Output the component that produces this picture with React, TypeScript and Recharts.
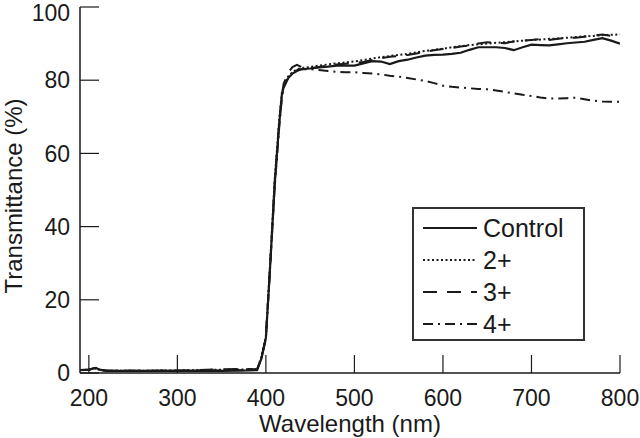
import { LineChart, Line, XAxis, YAxis, Legend } from "recharts";

const wavelengths = [
  190, 200, 205, 208, 212, 220, 250, 300, 350, 380, 390, 395, 400, 405, 410,
  415, 418, 420, 425, 430, 435, 440, 450, 460, 470, 480, 490, 500, 510, 520,
  530, 540, 550, 560, 570, 580, 590, 600, 610, 620, 630, 640, 650, 660, 670,
  680, 690, 700, 710, 720, 730, 740, 750, 760, 770, 780, 790, 800,
];

const control = [
  0.8, 0.9, 1.3, 1.4, 0.9, 0.6, 0.6, 0.6, 0.6, 0.7, 0.8, 4, 9.6, 30, 52, 68,
  76, 78, 80.5, 81.8, 82.5, 83, 83.2, 83.5, 83.7, 84, 84, 84, 84.6, 85.2, 85.1,
  84.4, 85.2, 85.6, 86.2, 86.7, 86.9, 87, 87.2, 87.5, 88.3, 89, 89, 89, 88.8,
  88.2, 89, 89.7, 89.6, 89.5, 89.8, 90.1, 90.3, 90.5, 91, 91.5, 90.8, 90,
];

const ca2 = [
  0.8, 0.9, 1.2, 1.3, 0.9, 0.6, 0.6, 0.7, 0.9, 1.0, 1.0, 4.5, 10, 31, 53, 69,
  76.5, 78.5, 81, 82.2, 83, 83.3, 83.6, 84, 84.3, 84.6, 84.9, 85.1, 85.5, 85.9,
  86.3, 86.6, 86.9, 87.2, 87.6, 88, 88.3, 88.6, 89, 89.3, 89.6, 89.8, 90, 90.2,
  90.4, 90.6, 90.8, 91, 91.1, 91.3, 91.4, 91.6, 91.8, 92, 92.1, 92.3, 92.4, 92.5,
];

const ca3 = [
  0.8, 0.9, 1.2, 1.3, 0.9, 0.6, 0.6, 0.7, 1.0, 1.1, 1.0, 4.2, 9.8, 30, 52, 68,
  75.5, 79, 82, 83.6, 84.2, 83.6, 83.2, 83.6, 84, 84.3, 84.5, 84.7, 85, 85.5,
  86, 86.4, 86.6, 86.9, 87.3, 87.8, 88.2, 88.5, 88.8, 89.2, 89.5, 90, 90.4,
  90.2, 90.1, 90.6, 90.8, 91, 91.2, 91, 91.3, 91.6, 91.6, 91.9, 92.2, 92.5,
  92.1, 91.8,
];

const ca4 = [
  0.8, 0.9, 1.2, 1.3, 0.9, 0.6, 0.6, 0.6, 0.7, 0.8, 0.9, 4, 9.5, 30, 51, 67,
  75, 78, 80.5, 82, 82.8, 83, 83, 82.8, 82.5, 82.3, 82.2, 82.2, 82, 81.8, 81.6,
  81.2, 81, 80.6, 80.2, 79.8, 79.2, 78.5, 78.2, 78, 77.8, 77.6, 77.5, 77.2,
  76.8, 76.4, 76, 75.7, 75.3, 75, 75, 75.1, 75.2, 74.8, 74.4, 74.2, 74.1, 74.1,
];

const xTicks = [200, 300, 400, 500, 600, 700, 800];
const yTicks = [0, 20, 40, 60, 80, 100];

const series = [
  { key: "control", name: "Control", dash: undefined, width: 2.2 },
  { key: "ca2", name: "2+", dash: "2 2.5", width: 2 },
  { key: "ca3", name: "3+", dash: "14 10", width: 2 },
  { key: "ca4", name: "4+", dash: "10 5 2 5", width: 2 },
];

const data = wavelengths.map((w, i) => ({
  wavelength: w,
  control: control[i],
  ca2: ca2[i],
  ca3: ca3[i],
  ca4: ca4[i],
}));

const font = "'Liberation Sans', Arial, Helvetica, sans-serif";
const ink = "#1a1a1a";

function LegendBox() {
  return (
    <div
      style={{
        width: 169,
        height: 130,
        border: `2px solid #333`,
        background: "#fff",
        boxSizing: "content-box",
      }}
    >
      <svg width={169} height={130}>
        {series.map((s, i) => {
          const cy = 19 + i * 32;
          return (
            <g key={s.key}>
              <line
                x1={9}
                x2={63}
                y1={cy}
                y2={cy}
                stroke={ink}
                strokeWidth={s.width}
                strokeDasharray={s.dash}
              />
              <text
                x={69}
                y={cy}
                dy="0.36em"
                fontSize={25}
                fontFamily={font}
                fill={ink}
              >
                {s.name}
              </text>
            </g>
          );
        })}
      </svg>
    </div>
  );
}

export default function App() {
  return (
    <div style={{ position: "absolute", left: 0, top: 0, background: "#fff" }}>
      <LineChart
        width={640}
        height={438}
        data={data}
        margin={{ top: 7, right: 20, bottom: 0, left: 0 }}
      >
        <XAxis
          dataKey="wavelength"
          type="number"
          domain={[190, 800]}
          ticks={xTicks}
          allowDataOverflow
          height={65}
          tickSize={-18}
          tickMargin={35}
          axisLine={{ stroke: ink, strokeWidth: 1.5 }}
          tickLine={{ stroke: ink, strokeWidth: 1.2 }}
          tick={{ fill: ink, fontSize: 23, fontFamily: font }}
          label={{
            value: "Wavelength (nm)",
            position: "insideBottom",
            offset: 6,
            fill: ink,
            fontSize: 24,
            fontFamily: font,
          }}
        />
        <YAxis
          type="number"
          domain={[0, 100]}
          ticks={yTicks}
          width={80}
          tickSize={-19}
          tickMargin={29}
          axisLine={{ stroke: ink, strokeWidth: 1.5 }}
          tickLine={{ stroke: ink, strokeWidth: 1.2 }}
          tick={{ fill: ink, fontSize: 23, fontFamily: font }}
          label={{
            content: () => (
              <text
                x={22}
                y={196}
                transform="rotate(-90 22 196)"
                textAnchor="middle"
                fontSize={24}
                fontFamily={font}
                fill={ink}
              >
                Transmittance (%)
              </text>
            ),
          }}
        />
        <Legend
          layout="vertical"
          align="center"
          verticalAlign="middle"
          content={() => <LegendBox />}
          wrapperStyle={{ position: "absolute", left: 412, top: 207, width: 173 }}
        />
        {series.map((s) => (
          <Line
            key={s.key}
            type="linear"
            dataKey={s.key}
            name={s.name}
            stroke={ink}
            strokeWidth={s.width}
            strokeDasharray={s.dash}
            dot={false}
            activeDot={false}
            isAnimationActive={false}
          />
        ))}
      </LineChart>
    </div>
  );
}
